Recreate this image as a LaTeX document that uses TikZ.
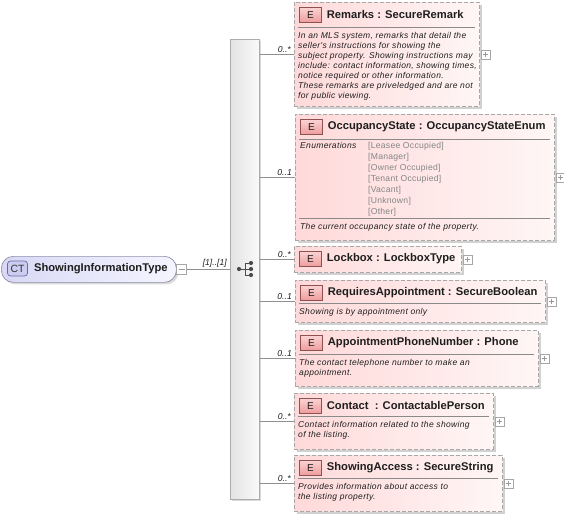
\documentclass[tikz,border=0pt]{standalone}
\usepackage{fontspec}
\setmainfont{Liberation Sans}
\newfontfamily\descfont[LetterSpace=4]{Liberation Sans}
\newfontfamily\enumfont[LetterSpace=3]{Liberation Sans}
\usetikzlibrary{shadows,calc}
\definecolor{ebord}{HTML}{A8A8A8}
\definecolor{epinkL}{HTML}{FFD9D9}
\definecolor{epinkR}{HTML}{FFF6F6}
\definecolor{badgeT}{HTML}{FBD3D3}
\definecolor{badgeB}{HTML}{EE9C9C}
\definecolor{badgeD}{HTML}{8E5050}
\definecolor{ctL}{HTML}{D8D8F6}
\definecolor{ctR}{HTML}{F5F5FF}
\definecolor{ctD}{HTML}{9090AC}
\definecolor{ctbadge}{HTML}{CDCDF2}
\definecolor{ctbadgeD}{HTML}{6A6AA0}
\definecolor{linec}{HTML}{909090}
\definecolor{sepc}{HTML}{8A8A8A}
\definecolor{enumc}{HTML}{858585}
\definecolor{txt}{HTML}{1E1E1E}
\tikzset{
  ebox/.style={draw=ebord, dash pattern=on 4pt off 2pt, left color=epinkL, right color=epinkR,
    anchor=north west, inner sep=0pt, line width=0.8pt,
    drop shadow={shadow xshift=2.5pt, shadow yshift=-2.5pt, fill=black!18, opacity=1}},
  ebadge/.style={draw=badgeD, top color=badgeT, bottom color=badgeB, line width=0.7pt,
    minimum width=22pt, minimum height=15pt, inner sep=0pt, font=\fontsize{10}{10}\selectfont, text=txt},
  etitle/.style={font=\fontsize{11.2}{13}\selectfont\bfseries, text=txt, inner sep=0pt},
  edesc/.style={font=\fontsize{8.5}{10}\descfont\itshape, text=txt, inner sep=0pt, align=left, anchor=north west},
  eenum/.style={font=\fontsize{8.6}{10.9}\enumfont, text=enumc, inner sep=0pt, align=left, anchor=north west},
  plusbox/.style={draw=gray!70, fill=white, minimum width=9pt, minimum height=9pt, inner sep=0pt, line width=0.5pt,
    path picture={\draw[gray!80, line width=0.5pt]
      ($(path picture bounding box.west)+(2pt,0)$) -- ($(path picture bounding box.east)+(-2pt,0)$)
      ($(path picture bounding box.north)+(0,-2pt)$) -- ($(path picture bounding box.south)+(0,2pt)$);}},
  minusbox/.style={draw=gray!70, fill=white, minimum width=10pt, minimum height=10pt, inner sep=0pt, line width=0.5pt,
    path picture={\draw[gray!80, line width=0.5pt]
      ($(path picture bounding box.west)+(2pt,0)$) -- ($(path picture bounding box.east)+(-2pt,0)$);}},
  conn/.style={draw=linec, line width=0.6pt},
  mult/.style={font=\fontsize{8.6}{9}\selectfont\itshape, text=txt, inner sep=0pt, anchor=south east, xshift=-3pt, yshift=2pt},
  sepline/.style={draw=sepc, line width=0.6pt},
  seqbar/.style={draw=gray!65, left color=gray!22, right color=gray!4, inner sep=0pt, anchor=north west, line width=0.6pt,
    drop shadow={shadow xshift=2pt, shadow yshift=-2pt, fill=black!15, opacity=1}},
  ctnode/.style={draw=ctD, left color=ctL, right color=ctR, rounded corners=12pt, inner sep=0pt, anchor=north west, line width=0.7pt,
    drop shadow={shadow xshift=2pt, shadow yshift=-2pt, fill=black!15, opacity=1}},
  ctbadgest/.style={draw=ctbadgeD, fill=ctbadge, rounded corners=3pt, minimum width=20pt, minimum height=15pt, inner sep=0pt,
    font=\fontsize{10.5}{11}\selectfont, text=black!80, line width=0.7pt},
  seqdot/.style={fill=black!70, draw=none, circle, minimum size=4.2pt, inner sep=0pt},
}
\newcommand\mkelem[6]{%
  \node[ebox, minimum width=#4pt, minimum height=#5pt] (#1) at (#2,#3) {};
  \node[ebadge, anchor=north west] (#1-b) at ($(#1.north west)+(5pt,-5pt)$) {E};
  \node[etitle, anchor=west] (#1-t) at ($(#1-b.east)+(5pt,0.5pt)$) {#6};
  \node[plusbox] (#1-p) at ($(#1.east)+(5.5pt,0)$) {};
  \draw[conn] (#1.west -| seq.east) -- (#1.west);
}
\begin{document}
\begin{tikzpicture}[x=1pt,y=-1pt]
\useasboundingbox (0,0) rectangle (564,516);

% sequence bar
\node[seqbar, minimum width=29pt, minimum height=460pt] (seq) at (230,39) {};
% sequence icon
\node[seqdot] (sq0) at (239,269) {};
\node[seqdot] (sq1) at (251,263) {};
\node[seqdot] (sq2) at (251,269) {};
\node[seqdot] (sq3) at (251,275) {};
\coordinate (sqv) at (245,269);
\draw[black!70, line width=0.8pt] (sq0) -- (sq2) (sqv |- sq1) -- (sqv |- sq3) (sqv |- sq1) -- (sq1) (sqv |- sq3) -- (sq3);

% complex type node
\node[ctnode, minimum width=175pt, minimum height=26pt] (ct) at (1,256) {};
\node[ctbadgest] (ctb) at (17.5,268.5) {CT};
\node[etitle, anchor=west] (ctt) at ($(ctb.east)+(6pt,0)$) {ShowingInformationType};
\node[minusbox] (ctm) at ($(ct.east)+(5pt,0)$) {};
\draw[conn] (ctm.east) -- (ctm.east -| seq.west) node[mult, pos=1] {[1]..[1]};

% Remarks
\mkelem{rem}{294}{2}{185}{104}{Remarks\ : SecureRemark}
\draw[sepline] (298,27) -- (475,27);
\node[edesc] (remd) at (298,32.5) {In an MLS system, remarks that detail the\\seller's instructions for showing the\\subject property. Showing instructions may\\include: contact information, showing times,\\notice required or other information.\\These remarks are priveledged and are not\\for public viewing.};
\node[mult] at (rem.west) {0..*};

% OccupancyState
\mkelem{occ}{295}{114}{259}{126}{OccupancyState : OccupancyStateEnum}
\draw[sepline] (299,139) -- (550,139);
\node[edesc] (occe) at (300,142.5) {Enumerations};
\node[eenum] (occv) at (368,142.5) {[Leasee Occupied]\\{[Manager]}\\{[Owner Occupied]}\\{[Tenant Occupied]}\\{[Vacant]}\\{[Unknown]}\\{[Other]}};
\draw[sepline] (299,218) -- (550,218);
\node[edesc] (occd) at (300,223.5) {The current occupancy state of the property.};
\node[mult] at (occ.west) {0..1};

% Lockbox
\mkelem{lock}{294}{246}{167}{26}{Lockbox : LockboxType}
\node[mult] at (lock.west) {0..*};

% RequiresAppointment
\mkelem{req}{295}{280}{250}{42}{RequiresAppointment : SecureBoolean}
\draw[sepline] (299,303) -- (541,303);
\node[edesc] (reqd) at (299,308.5) {Showing is by appointment only};
\node[mult] at (req.west) {0..1};

% AppointmentPhoneNumber
\mkelem{phone}{295}{330}{243}{56}{AppointmentPhoneNumber : Phone}
\draw[sepline] (299,354) -- (534,354);
\node[edesc] (phoned) at (299,359.5) {The contact telephone number to make an\\appointment.};
\node[mult] at (phone.west) {0..1};

% Contact
\mkelem{cont}{294}{393}{199}{56}{Contact\ \ : ContactablePerson}
\draw[sepline] (298,416) -- (489,416);
\node[edesc] (contd) at (298,421.5) {Contact information related to the showing\\of the listing.};
\node[mult] at (cont.west) {0..*};

% ShowingAccess
\mkelem{acc}{294}{455}{208}{56}{ShowingAccess : SecureString}
\draw[sepline] (298,478) -- (498,478);
\node[edesc] (accd) at (298,483.5) {Provides information about access to\\the listing property.};
\node[mult] at (acc.west) {0..*};
\end{tikzpicture}
\end{document}
